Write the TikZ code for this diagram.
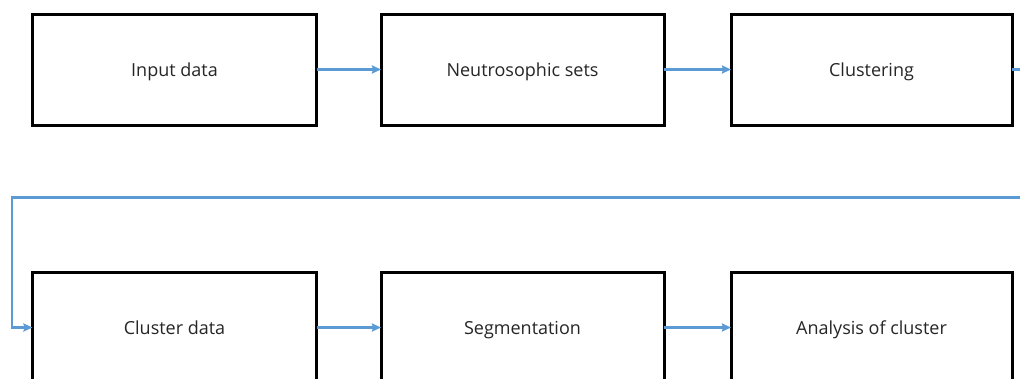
\documentclass[tikz,border=0pt]{standalone}
\usepackage{fontspec}
\setmainfont{Open Sans}
\usetikzlibrary{arrows.meta}
\definecolor{flowblue}{HTML}{5B9BD5}
\definecolor{txtgray}{HTML}{262626}
\begin{document}
\begin{tikzpicture}[x=1pt,y=-1pt,
  procbox/.style={draw=black,line width=3pt,minimum height=111pt,inner sep=0pt,outer sep=0pt,
    font=\fontsize{18}{21}\selectfont,text=txtgray,text height=15pt,text depth=1pt},
  flow/.style={draw=flowblue,line width=2.5pt,-{Stealth[length=9pt,width=8pt,inset=1pt]}}]
\useasboundingbox (0,0) rectangle (1020,378);
\clip (0,0) rectangle (1020,378);
\fill[white] (0,0) rectangle (1020,378);
\node[procbox,minimum width=284pt] (b1) at (174.5,69.5) {Input data};
\node[procbox,minimum width=283pt] (b2) at (522.5,69.5) {Neutrosophic sets};
\node[procbox,minimum width=281pt] (b3) at (871.5,69.5) {Clustering};
\node[procbox,minimum width=284pt] (b4) at (174.5,327.5) {Cluster data};
\node[procbox,minimum width=283pt] (b5) at (522.5,327.5) {Segmentation};
\node[procbox,minimum width=281pt] (b6) at (871.5,327.5) {Analysis of cluster};
\coordinate (r1) at (1040,69.5);
\coordinate (r2) at (1040,197.5);
\coordinate (l1) at (12,197.5);
\draw[flow] (b1.east) -- (b2.west);
\draw[flow] (b2.east) -- (b3.west);
\draw[flow] (b4.east) -- (b5.west);
\draw[flow] (b5.east) -- (b6.west);
\draw[flow] (b3.east) -- (r1) -- (r2) -- (l1) |- (b4.west);
\end{tikzpicture}
\end{document}
